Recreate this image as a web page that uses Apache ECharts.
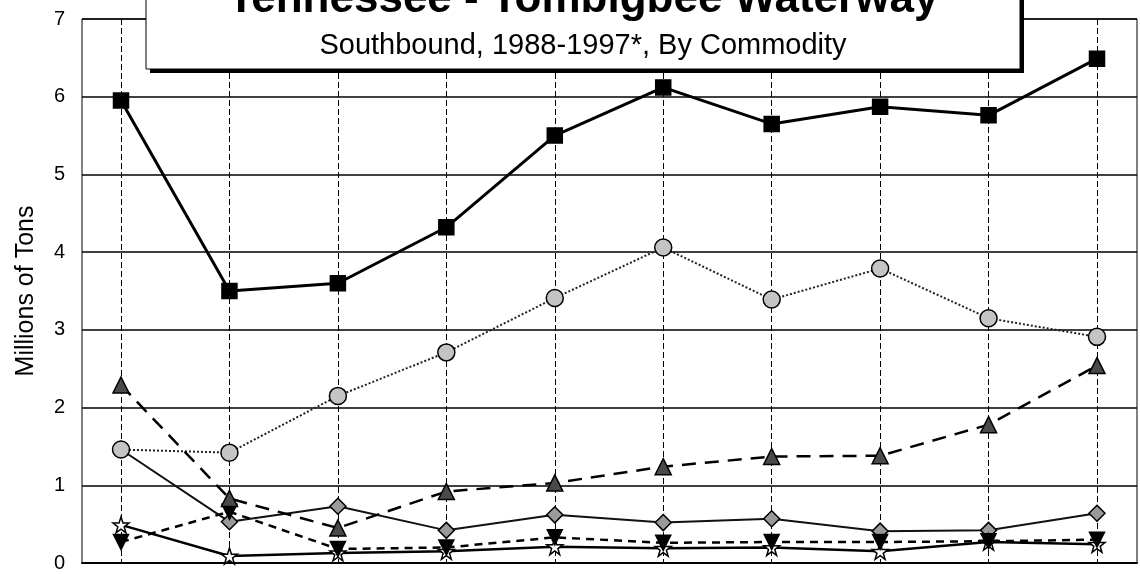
<!DOCTYPE html>
<html>
<head>
<meta charset="utf-8">
<script src="https://cdn.jsdelivr.net/npm/echarts@6/dist/echarts.min.js"></script>
<style>html,body{margin:0;padding:0;background:#fff}#c{width:1140px;height:574px}</style>
</head>
<body>
<div id="c"></div>
<script>
var years = ['1988','1989','1990','1991','1992','1993','1994','1995','1996','1997'];
var yTicks = [0,1,2,3,4,5,6,7];
var squares   = [5.95, 3.50, 3.60, 4.32, 5.50, 6.12, 5.65, 5.87, 5.76, 6.49];
var circles   = [1.46, 1.42, 2.15, 2.71, 3.41, 4.06, 3.39, 3.79, 3.15, 2.91];
var triangles = [2.29, 0.83, 0.45, 0.92, 1.03, 1.24, 1.37, 1.38, 1.78, 2.54];
var diamonds  = [1.46, 0.53, 0.73, 0.42, 0.62, 0.52, 0.57, 0.41, 0.42, 0.64];
var invTri    = [0.27, 0.66, 0.18, 0.20, 0.33, 0.26, 0.27, 0.27, 0.28, 0.30];
var stars     = [0.49, 0.09, 0.13, 0.15, 0.21, 0.19, 0.20, 0.15, 0.27, 0.24];

var FONT = "'Liberation Sans', Arial, Helvetica, sans-serif";
var starPath = 'path://M50,0 L61.8,35.1 L97.6,35.1 L68.8,56.7 L79.4,91 L50,70 L20.6,91 L31.2,56.7 L2.4,35.1 L38.2,35.1 Z';

function mk(name, data, sym, size, fill, line, extra) {
  var s = {
    name: name, type: 'line', data: data,
    xAxisIndex: 1, yAxisIndex: 1,
    symbol: sym, symbolSize: size, showSymbol: true,
    itemStyle: { color: fill, borderColor: '#000', borderWidth: 1.5 },
    lineStyle: line,
    animation: false
  };
  for (var k in extra) s[k] = extra[k];
  return s;
}

var chart = echarts.init(document.getElementById('c'), null, {renderer: 'canvas'});
chart.setOption({
  backgroundColor: '#fff',
  animation: false,
  grid: [
    { left: 82, right: 3, top: 19, bottom: 11, show: true, borderColor: '#000', borderWidth: 1, backgroundColor: 'transparent' },
    { left: 121, right: 43, top: 19, bottom: 11 }
  ],
  xAxis: [
    { gridIndex: 0, type: 'value', min: 0, max: 1, axisLabel: {show: false}, axisTick: {show: false}, splitLine: {show: false},
      axisLine: { show: true, onZero: false, lineStyle: { color: '#000', width: 2 } } },
    { gridIndex: 1, type: 'category', data: years, boundaryGap: false,
      axisLabel: {show: false}, axisTick: {show: false}, axisLine: {show: false},
      splitLine: { show: true, interval: 0, lineStyle: { color: '#000', width: 1, type: [6, 3] } } }
  ],
  yAxis: [
    { gridIndex: 0, type: 'value', min: yTicks[0], max: yTicks[yTicks.length - 1], interval: 1,
      name: 'Millions of Tons', nameLocation: 'middle', nameRotate: 90, nameGap: 43,
      nameTextStyle: { fontFamily: FONT, fontSize: 25, color: '#000' },
      axisLine: { show: false }, axisTick: { show: false },
      axisLabel: { fontFamily: FONT, fontSize: 20, color: '#000', margin: 17 },
      splitLine: { show: true, lineStyle: { color: '#000', width: 1.5 } } },
    { gridIndex: 1, type: 'value', min: yTicks[0], max: yTicks[yTicks.length - 1], show: false, splitLine: {show: false} }
  ],
  series: [
    mk('Series A', diamonds, 'diamond', 16, '#9a9a9a', { color: '#111', width: 2, type: 'solid' }, {z: 3}),
    mk('Series B', circles, 'circle', 17, '#c4c4c4', { color: '#222', width: 2, type: 'dotted' }, {z: 3}),
    mk('Series C', stars, starPath, 16, '#fff', { color: '#000', width: 2.5, type: 'solid' }, {z: 4}),
    mk('Series D', invTri, 'triangle', 15, '#000', { color: '#000', width: 2.5, type: [8, 6] }, {symbolRotate: 180, z: 5}),
    mk('Series E', triangles, 'triangle', 16, '#4a4a4a', { color: '#000', width: 2.5, type: [14, 9] }, {z: 6}),
    mk('Series F', squares, 'rect', 15, '#000', { color: '#000', width: 3, type: 'solid' }, {z: 7})
  ],
  graphic: [
    { type: 'rect', z: 100, shape: { x: 150, y: -6, width: 874, height: 79 }, style: { fill: '#000' } },
    { type: 'rect', z: 101, shape: { x: 146, y: -10, width: 874, height: 79 }, style: { fill: '#fff', stroke: '#000', lineWidth: 1 } },
    { type: 'text', z: 102, x: 583, y: 0, style: { text: 'Tennessee - Tombigbee Waterway', font: 'bold 44px ' + FONT, fill: '#000', align: 'center', verticalAlign: 'middle' } },
    { type: 'text', z: 102, x: 583, y: 46, style: { text: 'Southbound, 1988-1997*, By Commodity', font: '29px ' + FONT, fill: '#000', align: 'center', verticalAlign: 'middle' } }
  ]
});
</script>
</body>
</html>
